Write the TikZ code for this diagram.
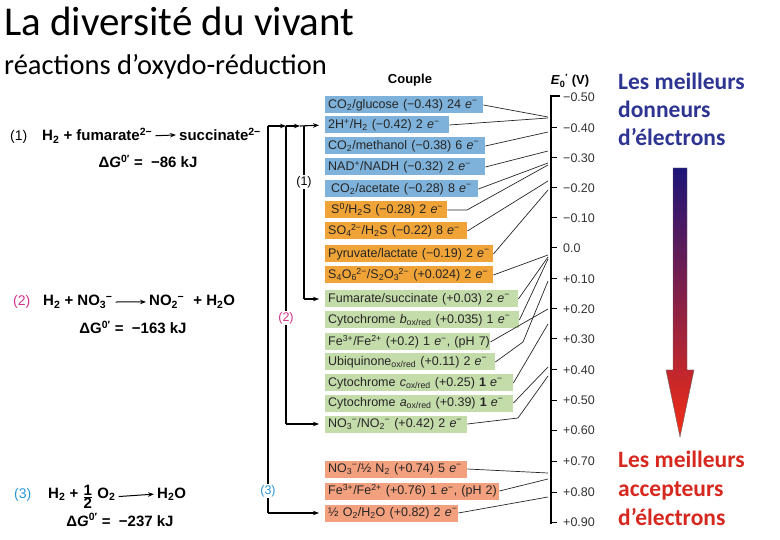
\documentclass[tikz,border=0pt]{standalone}
\usepackage{fontspec}
\setmainfont{Liberation Sans}
\newfontfamily\calibri{Carlito}
\usetikzlibrary{arrows.meta,shadings}
\definecolor{cblue}{RGB}{126,178,218}
\definecolor{corange}{RGB}{240,164,56}
\definecolor{cgreen}{RGB}{196,220,170}
\definecolor{csalmon}{RGB}{243,160,126}
\definecolor{navytxt}{RGB}{46,52,146}
\definecolor{redtxt}{RGB}{214,40,30}
\definecolor{pinkl}{RGB}{206,50,140}
\definecolor{cyanl}{RGB}{40,150,215}
\definecolor{arrtop}{RGB}{28,20,120}
\definecolor{arrmid}{RGB}{140,10,140}
\definecolor{arrbot}{RGB}{245,45,20}
\newcommand\subsup[2]{\textsubscript{#1}\kern-0.5pt\textsuperscript{#2}}
\newcommand\el{\textit{e}\textsuperscript{−}}
\begin{document}
\begin{tikzpicture}[x=1pt,y=-1pt,
  cbox/.style={anchor=west, inner xsep=3pt, inner ysep=0pt, minimum height=17pt,
    font=\fontsize{12.5}{14}\selectfont, text=black!85, align=left},
  conn/.style={line width=0.7pt, black!85},
  brk/.style={line width=1.1pt, black},
  brkarr/.style={brk, -{Stealth[length=6pt,width=4.5pt]}},
  eqtxt/.style={font=\fontsize{15}{18}\selectfont\bfseries, inner sep=0pt, anchor=base west},
  eqnum/.style={font=\fontsize{14}{18}\selectfont, inner sep=0pt, anchor=base west},
  rxarr/.style={line width=1pt, -{Stealth[length=6pt,width=4.5pt]}, shorten <=3pt, shorten >=3pt},
  axlab/.style={font=\fontsize{12.5}{14}\selectfont, text=black!80, anchor=west, inner sep=0pt},
  brlab/.style={font=\fontsize{12.5}{14}\selectfont, fill=white, inner sep=1pt},
  sidetxt/.style={font=\calibri\bfseries\fontsize{23.5}{28}\selectfont, inner sep=0pt, anchor=base west}
]
\useasboundingbox (0,0) rectangle (780,540);

% titles
\node[font=\calibri\fontsize{41}{48}\selectfont, inner sep=0pt, anchor=base west] (title) at (4,36) {La diversité du vivant};
\node[font=\calibri\fontsize{28.5}{34}\selectfont, inner sep=0pt, anchor=base west] (subtitle) at (4,75) {réactions d’oxydo-réduction};

% headers
\node[font=\fontsize{13}{15}\selectfont\bfseries] (couple) at (410,80) {Couple};
\node[font=\fontsize{13}{15}\selectfont\bfseries] (eh) at (570,81) {\textit{E}\textsubscript{0}\textsuperscript{′} (V)};

% couple boxes
\newcommand\cpl[5]{\node[cbox, fill=#4, text width=#3pt] (#1) at (325,#2) {\mbox{#5}};}
\cpl{b1}{105}{152}{cblue}{CO\textsubscript{2}/glucose (−0.43) 24 \el}
\cpl{b2}{125}{118}{cblue}{2H\textsuperscript{+}/H\textsubscript{2} (−0.42) 2 \el}
\cpl{b3}{146}{154}{cblue}{CO\textsubscript{2}/methanol (−0.38) 6 \el}
\cpl{b4}{167}{154}{cblue}{NAD\textsuperscript{+}/NADH (−0.32) 2 \el}
\cpl{b5}{189}{147}{cblue}{\hspace{3pt}CO\textsubscript{2}/acetate (−0.28) 8 \el}
\cpl{b6}{210}{116}{corange}{\hspace{3pt}S\textsuperscript{0}/H\textsubscript{2}S (−0.28) 2 \el}
\cpl{b7}{231}{136}{corange}{SO\subsup{4}{2−}/H\textsubscript{2}S (−0.22) 8 \el}
\cpl{b8}{254}{162}{corange}{Pyruvate/lactate (−0.19) 2 \el}
\cpl{b9}{275}{162}{corange}{S\textsubscript{4}O\subsup{6}{2−}/S\textsubscript{2}O\subsup{3}{2−} (+0.024) 2 \el}
\cpl{b10}{299}{187}{cgreen}{Fumarate/succinate (+0.03) 2 \el}
\cpl{b11}{320}{188}{cgreen}{Cytochrome \textit{b}\textsubscript{ox/red} (+0.035) 1 \el}
\cpl{b12}{342}{159}{cgreen}{Fe\textsuperscript{3+}/Fe\textsuperscript{2+} (+0.2) 1 \el, (pH 7)}
\cpl{b13}{362}{164}{cgreen}{Ubiquinone\textsubscript{ox/red} (+0.11) 2 \el}
\cpl{b14}{383}{182}{cgreen}{Cytochrome \textit{c}\textsubscript{ox/red} (+0.25) \textbf{1} \el}
\cpl{b15}{403}{182}{cgreen}{Cytochrome \textit{a}\textsubscript{ox/red} (+0.39) \textbf{1} \el}
\cpl{b16}{424}{136}{cgreen}{NO\subsup{3}{−}/NO\subsup{2}{−} (+0.42) 2 \el}
\cpl{b17}{469}{136}{csalmon}{NO\subsup{3}{−}/½ N\textsubscript{2} (+0.74) 5 \el}
\cpl{b18}{491}{168}{csalmon}{Fe\textsuperscript{3+}/Fe\textsuperscript{2+} (+0.76) 1 \el, (pH 2)}
\cpl{b19}{513}{127}{csalmon}{½ O\textsubscript{2}/H\textsubscript{2}O (+0.82) 2 \el}

% axis
\coordinate (axtop) at (551,96);
\coordinate (axbot) at (551,523);
\coordinate (axcap) at (559,96);
\draw[line width=1.6pt, line cap=rect] (axcap) -- (axtop) -- (axbot);
\foreach \yy/\lab in {97/−0.50,128/−0.40,158/−0.30,188/−0.20,218/−0.10,248/0.0,279/+0.10,309/+0.20,339/+0.30,370/+0.40,400/+0.50,430/+0.60,461/+0.70,492/+0.80,522/+0.90}{
  \node[axlab] (t\yy) at (563,\yy) {\lab};
}
\foreach \yy in {128,158,188,218,248,279,309,339,370,400,430,461,492,522}{
  \draw[line width=1pt] (551,\yy) -- (557,\yy);
}

% axis points
\foreach \n/\yy in {1/117,2/118,3/132,4/151,5/163,6/165,7/181,8/190,9/255,10/257,11/259,12/309,13/281,14/324,15/367,16/376,17/473,18/479,19/497}{
  \coordinate (p\n) at (548,\yy);
}
\coordinate (v6) at (467,210);
\coordinate (v13) at (523,342);
\coordinate (v16) at (518,418);
\foreach \n in {1,2,3,4,5,7,8,9,10,11,12,14,15,17,18,19}{
  \draw[conn] (b\n.east) -- (p\n);
}
\draw[conn] (b6.east) -- (v6) -- (p6);
\draw[conn] (b13.east) -- (v13) -- (p13);
\draw[conn] (b16.east) -- (v16) -- (p16);

% bracket connectors
\coordinate (k3t) at (268,126);
\coordinate (k2t) at (286,126);
\coordinate (k1t) at (304,126);
\coordinate (kmid) at (300,126);
\coordinate (k1b) at (304,299);
\coordinate (k2b) at (286,424);
\coordinate (k3b) at (268,513);
\draw[brk] (k1t) -- (k1b);
\draw[brk] (k2t) -- (k2b);
\draw[brk] (k3t) -- (k3b);
\draw[brkarr] (k3t) -- (k2t);
\draw[brkarr] (k2t) -- (kmid);
\draw[brkarr, shorten >=6pt] (kmid) -- (b2.west);
\draw[brkarr, shorten >=6pt] (k1b) -- (b10.west);
\draw[brkarr, shorten >=6pt] (k2b) -- (b16.west);
\draw[brkarr, shorten >=6pt] (k3b) -- (b19.west);
\node[brlab] (l1) at (304,182) {(1)};
\node[brlab, text=pinkl] (l2) at (286,318) {(2)};
\node[brlab, text=cyanl] (l3) at (268,491) {(3)};

% reactions
\node[eqnum] (n1) at (10,141) {(1)};
\node[eqtxt] (r1a) at (42,141) {H\textsubscript{2} + fumarate\textsuperscript{2−}};
\node[eqtxt] (r1b) at (179,141) {succinate\textsuperscript{2−}};
\draw[rxarr] (r1a.east) -- (r1b.west);
\node[eqtxt, anchor=base] (g1) at (148,168) {Δ\textit{G}\textsuperscript{0′} = \ −86 kJ};

\node[eqnum, text=pinkl] (n2) at (13,306) {(2)};
\node[eqtxt] (r2a) at (43,306) {H\textsubscript{2} + NO\subsup{3}{−}\hspace{4pt}};
\node[eqtxt] (r2b) at (149,306) {NO\subsup{2}{−}\hspace{5pt} + H\textsubscript{2}O};
\draw[rxarr] (r2a.east) -- (r2b.west);
\node[eqtxt, anchor=base] (g2) at (133,334) {ΔG\textsuperscript{0′} = \ −163 kJ};

\node[eqnum, text=cyanl] (n3) at (14,498) {(3)};
\node[eqtxt] (r3a) at (48,498) {H\textsubscript{2} + \raisebox{-3pt}{$\frac{\hbox{\bfseries 1}}{\hbox{\bfseries 2}}$} O\textsubscript{2}};
\node[eqtxt] (r3b) at (157,498) {H\textsubscript{2}O};
\draw[rxarr] (r3a.east) -- (r3b.west);
\node[eqtxt, anchor=base] (g3) at (120,526) {Δ\textit{G}\textsuperscript{0′} = \ −237 kJ};

% side texts
\node[sidetxt, text=navytxt] (d1) at (618,90) {Les meilleurs};
\node[sidetxt, text=navytxt] (d2) at (618,118) {donneurs};
\node[sidetxt, text=navytxt] (d3) at (618,146) {d’électrons};
\node[sidetxt, text=redtxt] (a1) at (618,467) {Les meilleurs};
\node[sidetxt, text=redtxt] (a2) at (618,496) {accepteurs};
\node[sidetxt, text=redtxt] (a3) at (618,525) {d’électrons};

% gradient arrow
\shadedraw[top color=arrtop, middle color=arrmid, bottom color=arrbot, draw=black!60, line width=0.4pt]
  (673,168) -- (687,168) -- (687,370) -- (694,370) -- (680,437) -- (666,370) -- (673,370) -- cycle;
\end{tikzpicture}
\end{document}
